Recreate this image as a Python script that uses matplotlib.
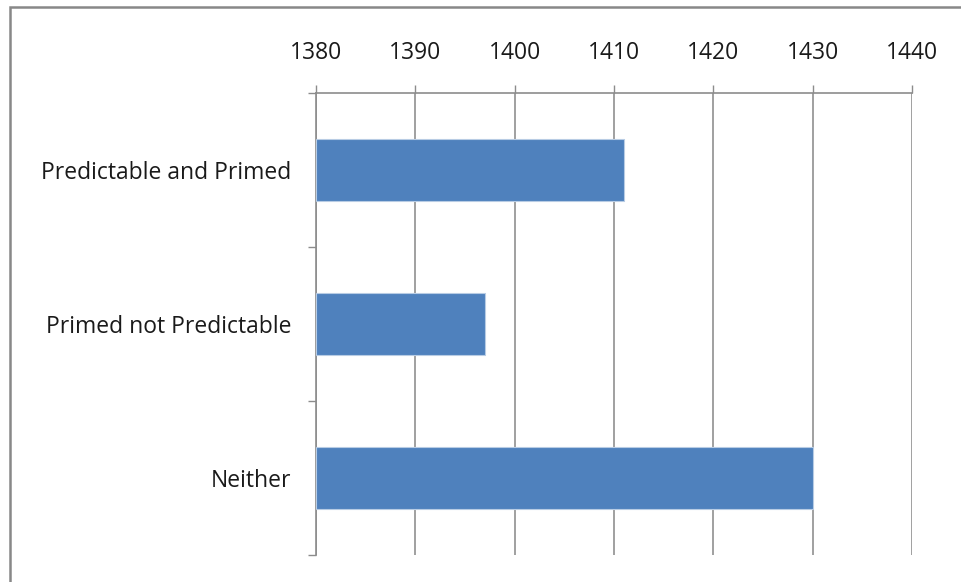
import matplotlib
matplotlib.use("Agg")
import matplotlib.pyplot as plt
from matplotlib.patches import Rectangle

categories = ["Predictable and Primed", "Primed not Predictable", "Neither"]
values = [1411, 1397, 1430]
x_ticks = [1380, 1390, 1400, 1410, 1420, 1430, 1440]

W, H = 961, 582
fig = plt.figure(figsize=(W / 100, H / 100), dpi=100)
plt.rcParams['font.family'] = ['Open Sans', 'DejaVu Sans']

left, right, top, bottom = 316, 912, 93, 555
ax = fig.add_axes([left / W, 1 - bottom / H, (right - left) / W, (bottom - top) / H])

gray = '#8c8c8c'
grid_gray = '#a0a0a0'
bar_color = '#4f81bd'

ypos = list(range(len(categories)))
ax.barh(ypos, [v - 1380 for v in values], left=1380, height=0.4,
        color=bar_color, edgecolor='#b8cce4', linewidth=0.8, zorder=3)

ax.set_xlim(1380, 1440)
ax.set_ylim(len(categories) - 0.5, -0.5)

ax.xaxis.tick_top()
ax.set_xticks(x_ticks)
ax.set_xticklabels([str(t) for t in x_ticks], fontsize=16.5, color='#1a1a1a')
ax.tick_params(axis='x', direction='out', length=5.5, width=1, color=gray, pad=15)

ax.set_yticks(ypos)
ax.set_yticklabels(categories, fontsize=16.5, color='#1a1a1a')
ax.tick_params(axis='y', which='major', length=0, pad=18)
ax.set_yticks([i - 0.5 for i in range(len(categories) + 1)], minor=True)
ax.tick_params(axis='y', which='minor', direction='out', length=6, width=1, color=gray)

ax.grid(axis='x', color=grid_gray, linewidth=1.4, zorder=0)
ax.set_axisbelow(True)

for s in ['right', 'bottom']:
    ax.spines[s].set_visible(False)
for s in ['left', 'top']:
    ax.spines[s].set_color(gray)
    ax.spines[s].set_linewidth(1.2)

fig.patches.append(Rectangle((9.5 / W, -10 / H), (W + 20) / W, (H + 10 - 6.5) / H,
                             transform=fig.transFigure, fill=False,
                             edgecolor='#888888', linewidth=1.8))

fig.savefig("out.png", dpi=100)
